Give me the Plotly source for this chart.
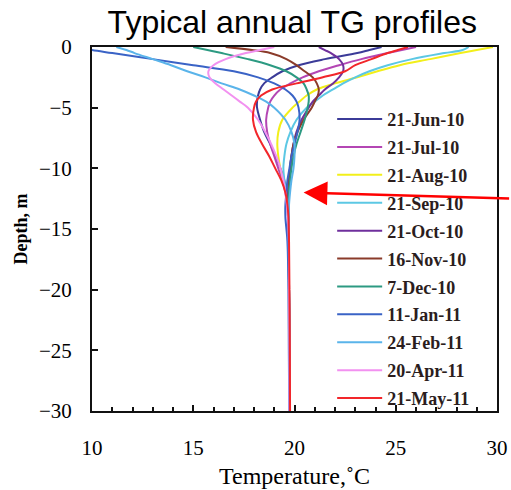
import plotly.graph_objects as go

# ---- data ----
depth_m = [0, 0.25, 0.5, 1, 1.5, 2, 2.5, 3, 3.5, 4, 4.5, 5, 6, 7, 8, 9, 10, 11, 12, 13, 14, 16, 20, 25, 30]

series_names = ["21-Jun-10", "21-Jul-10", "21-Aug-10", "21-Sep-10", "21-Oct-10", "16-Nov-10",
                "7-Dec-10", "11-Jan-11", "24-Feb-11", "20-Apr-11", "21-May-11"]

t_jun10 = [24.3, 23.7, 23.1, 21.5, 20.2, 19.4, 18.9, 18.5, 18.3, 18.2, 18.15, 18.15, 18.3, 18.5, 18.8, 19.05, 19.3, 19.5, 19.6, 19.65, 19.7, 19.72, 19.73, 19.75, 19.75]
t_jul10 = [26.0, 25.3, 24.6, 23.3, 22.2, 21.2, 20.4, 19.8, 19.3, 19.0, 18.8, 18.7, 18.6, 18.65, 18.8, 19.0, 19.2, 19.4, 19.55, 19.62, 19.68, 19.72, 19.73, 19.75, 19.75]
t_aug10 = [29.8, 29.0, 28.2, 26.7, 25.2, 24.1, 23.1, 22.0, 21.1, 20.6, 20.25, 19.9, 19.4, 19.2, 19.15, 19.2, 19.3, 19.45, 19.58, 19.64, 19.68, 19.72, 19.73, 19.75, 19.75]
t_sep10 = [28.6, 28.3, 27.4, 25.8, 24.6, 23.7, 23.0, 22.4, 21.9, 21.4, 21.0, 20.6, 20.1, 19.8, 19.6, 19.5, 19.45, 19.5, 19.58, 19.64, 19.68, 19.72, 19.73, 19.75, 19.75]
t_oct10 = [21.2, 21.5, 21.8, 22.2, 22.4, 22.4, 22.2, 21.9, 21.5, 21.2, 20.9, 20.7, 20.35, 20.1, 19.95, 19.85, 19.78, 19.72, 19.68, 19.68, 19.7, 19.72, 19.73, 19.75, 19.75]
t_nov10 = [16.6, 17.9, 18.8, 19.6, 20.1, 20.5, 20.9, 21.1, 21.2, 21.15, 21.0, 20.85, 20.45, 20.15, 19.95, 19.85, 19.78, 19.72, 19.7, 19.7, 19.7, 19.72, 19.73, 19.75, 19.75]
t_dec10 = [15.0, 15.7, 16.4, 17.7, 18.8, 19.6, 20.1, 20.45, 20.6, 20.7, 20.7, 20.65, 20.5, 20.3, 20.1, 19.95, 19.85, 19.78, 19.72, 19.7, 19.7, 19.72, 19.73, 19.75, 19.75]
t_jan11 = [9.3, 10.0, 11.0, 13.0, 15.0, 17.0, 18.2, 19.0, 19.55, 19.9, 20.1, 20.2, 20.25, 20.15, 20.0, 19.85, 19.75, 19.65, 19.6, 19.55, 19.55, 19.65, 19.7, 19.72, 19.74]
t_feb11 = [11.2, 11.7, 12.1, 13.0, 13.9, 14.7, 15.6, 16.4, 17.3, 18.0, 18.6, 19.0, 19.55, 19.85, 20.0, 20.0, 19.95, 19.85, 19.78, 19.73, 19.72, 19.72, 19.73, 19.75, 19.75]
t_apr11 = [19.0, 18.3, 17.6, 16.6, 16.0, 15.75, 15.8, 16.1, 16.5, 16.9, 17.3, 17.7, 18.2, 18.55, 18.85, 19.1, 19.3, 19.45, 19.55, 19.62, 19.67, 19.72, 19.73, 19.75, 19.75]
t_may11 = [25.6, 25.1, 24.6, 23.8, 23.0, 22.5, 21.4, 20.1, 18.9, 18.35, 18.1, 18.0, 17.95, 18.1, 18.4, 18.75, 19.05, 19.35, 19.55, 19.65, 19.7, 19.73, 19.75, 19.77, 19.78]

series_colors = ["#3b3b98", "#b446b4", "#f2ef1a", "#5cc8e4", "#6f2f9c", "#8a3b2a",
                 "#2c9a82", "#3a63c6", "#5ab4ea", "#f291f0", "#f2262a"]

all_temps = [t_jun10, t_jul10, t_aug10, t_sep10, t_oct10, t_nov10,
             t_dec10, t_jan11, t_feb11, t_apr11, t_may11]

temp_range = [10, 30]
depth_range = [-30, 0]

arrow_tip_temp = 20.45
arrow_tip_depth = -12.0

serif = "Liberation Serif, Times New Roman, serif"

fig = go.Figure()
for name, temps, col in zip(series_names, all_temps, series_colors):
    fig.add_trace(go.Scatter(
        x=temps, y=[-d for d in depth_m], mode="lines", name=name,
        legendgroup=name,
        line=dict(color=col, width=2, shape="spline", smoothing=1.0),
    ))

fig.add_annotation(
    x=arrow_tip_temp, y=arrow_tip_depth, xref="x", yref="y",
    ax=207, ay=6, text="", showarrow=True,
    arrowhead=2, arrowsize=1.9, arrowwidth=2.5, arrowcolor="#ff0000",
)

fig.update_layout(
    template="none",
    width=511, height=490,
    margin=dict(l=92, r=14, t=47, b=79, pad=0),
    paper_bgcolor="white", plot_bgcolor="white",
    font=dict(family=serif, color="black"),
    title=dict(text="Typical annual TG profiles", x=0.572, xref="container",
               xanchor="center", y=0.955, yanchor="middle",
               font=dict(family="Liberation Sans, Arial, sans-serif", size=32, color="black")),
    legend=dict(x=0.593, y=0.852, xanchor="left", yanchor="top",
                bgcolor="rgba(0,0,0,0)", borderwidth=0, tracegroupgap=1.5, itemwidth=45,
                font=dict(family=serif, size=18, color="#2b1d1d", weight="bold")),
    showlegend=True,
)

fig.update_xaxes(
    range=temp_range, dtick=5, tick0=10, ticks="inside", ticklen=6, tickwidth=2, tickcolor="#111",
    minor=dict(dtick=1, ticks="inside", ticklen=4, tickwidth=2, tickcolor="#111"),
    showline=True, mirror=True, linewidth=2, linecolor="#111",
    showgrid=False, zeroline=False, ticklabelstandoff=17, automargin=False,
    tickfont=dict(family=serif, size=21, color="black"),
    title=dict(text="Temperature,˚C", standoff=8,
               font=dict(family=serif, size=24, color="black")),
)
fig.update_yaxes(
    range=depth_range, dtick=5, tick0=0, ticks="inside", ticklen=6, tickwidth=2, tickcolor="#111",
    showline=True, mirror=True, linewidth=2, linecolor="#111",
    showgrid=False, zeroline=False, ticklabelstandoff=14, automargin=False,
    tickfont=dict(family=serif, size=21, color="black"),
    title=dict(text="Depth, m", standoff=7,
               font=dict(family=serif, size=18, color="black", weight="bold")),
)

fig.write_html("out.html")
